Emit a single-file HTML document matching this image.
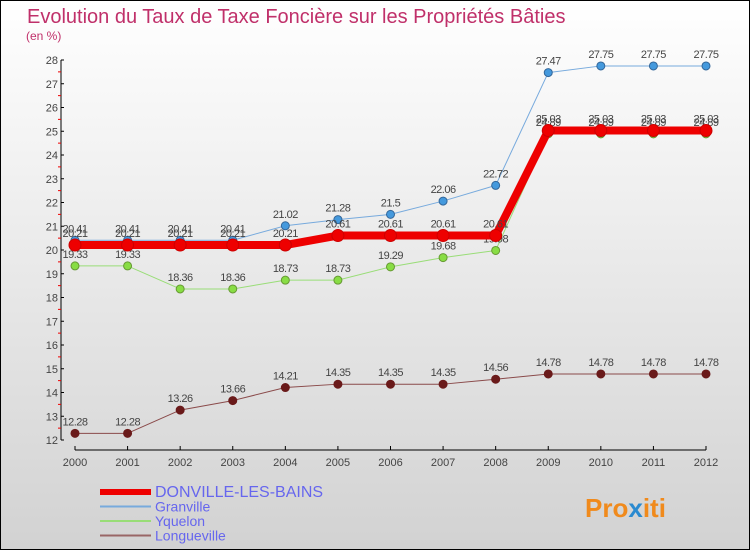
<!DOCTYPE html>
<html><head><meta charset="utf-8"><style>
body{margin:0;width:750px;height:550px;overflow:hidden;}
svg{display:block;font-family:"Liberation Sans",sans-serif;}
</style></head><body>
<svg id="c" width="750" height="550">
<defs><linearGradient id="bg" x1="0" y1="0" x2="0" y2="1"><stop offset="0" stop-color="#ffffff"/><stop offset="1" stop-color="#d2d2d2"/></linearGradient></defs>
<rect x="0.5" y="0.5" width="749" height="549" fill="url(#bg)" stroke="#000"/>
<text x="27" y="23" font-size="20" fill="#c0306a">Evolution du Taux de Taxe Foncière sur les Propriétés Bâties</text>
<text x="26" y="40" font-size="12" fill="#c0306a">(en %)</text>
<g id="axes"></g><g id="series"></g><g id="legend"></g>
<text x="585" y="517" font-size="26" font-weight="bold" fill="#f08a1c">Pro<tspan fill="#2a8ad0">x</tspan>iti</text>
</svg>
<script>
const years=[2000,2001,2002,2003,2004,2005,2006,2007,2008,2009,2010,2011,2012];
const yTicks=[12,13,14,15,16,17,18,19,20,21,22,23,24,25,26,27,28];
const donville=[20.21,20.21,20.21,20.21,20.21,20.61,20.61,20.61,20.61,25.03,25.03,25.03,25.03];
const granville=[20.41,20.41,20.41,20.41,21.02,21.28,21.5,22.06,22.72,27.47,27.75,27.75,27.75];
const yquelon=[19.33,19.33,18.36,18.36,18.73,18.73,19.29,19.68,19.98,24.89,24.89,24.89,24.89];
const longueville=[12.28,12.28,13.26,13.66,14.21,14.35,14.35,14.35,14.56,14.78,14.78,14.78,14.78];
const NS='http://www.w3.org/2000/svg';
const X=i=>75+i*(706-75)/(years.length-1);
const Y=v=>440-(v-12)*(380/16);
function mk(t,a,p){const e=document.createElementNS(NS,t);for(const k in a)e.setAttribute(k,a[k]);p.appendChild(e);return e;}
const ax=document.getElementById('axes');
const yl=mk('line',{x1:61,y1:Y(28),x2:61,y2:Y(12),stroke:'#000'},ax);


yTicks.forEach(v=>{
  mk('line',{x1:61,y1:Y(v),x2:64,y2:Y(v),stroke:'#000'},ax);
  if(v<28) mk('line',{x1:58,y1:Y(v+0.5),x2:61,y2:Y(v+0.5),stroke:'#e00'},ax);
  const t=mk('text',{x:58,y:Y(v)+4,'font-size':11,'text-anchor':'end',fill:'#444'},ax);t.textContent=v;
  
  
});
const xl=mk('line',{x1:75,y1:450,x2:706,y2:450,stroke:'#000'},ax);


years.forEach((y,i)=>{
  mk('line',{x1:X(i),y1:446,x2:X(i),y2:450,stroke:'#000'},ax);
  const t=mk('text',{x:X(i),y:466,'font-size':11,'text-anchor':'middle',fill:'#444'},ax);t.textContent=y;
  
  
});
const sg=document.getElementById('series');
function draw(data,name,color,w,dot,r,dotStroke){
  const g=mk('g',{},sg);
  
  
  mk('polyline',{points:data.map((v,i)=>X(i)+','+Y(v)).join(' '),fill:'none',stroke:color,'stroke-width':w,'stroke-linejoin':'round'},g);
  data.forEach((v,i)=>{
    const c=mk('circle',{cx:X(i),cy:Y(v),r:r,fill:dot,stroke:dotStroke,'stroke-width':1},g);
    
    
    const t=mk('text',{x:X(i),y:Y(v)-8,'font-size':11,'text-anchor':'middle',fill:'#444','letter-spacing':'-0.5'},g);
    t.textContent=v;
    
    
  });
}
draw(longueville,'longueville','#8a4a4a',1,'#6a1a1a',4,'#6a1a1a');
draw(yquelon,'yquelon','#99dd77',1,'#88dd44',4,'#669933');
draw(granville,'granville','#77aadd',1,'#4499dd',4,'#336699');
draw(donville,'donville','#ee0000',8,'#ee0000',6,'#cc0000');
const lg=document.getElementById('legend');
const L=[['DONVILLE-LES-BAINS','#ee0000',6,16],['Granville','#77aadd',2,14],['Yquelon','#99dd77',2,14],['Longueville','#996666',2,14]];
L.forEach((l,i)=>{
  const y=492+i*14.5;
  const g=mk('g',{},lg);
  
  
  mk('line',{x1:100,y1:y,x2:151,y2:y,stroke:l[1],'stroke-width':l[2]},g);
  const t=mk('text',{x:155,y:y+5,'font-size':l[3],fill:'#6666ee'},g);t.textContent=l[0];
});
</script>
</body></html>
